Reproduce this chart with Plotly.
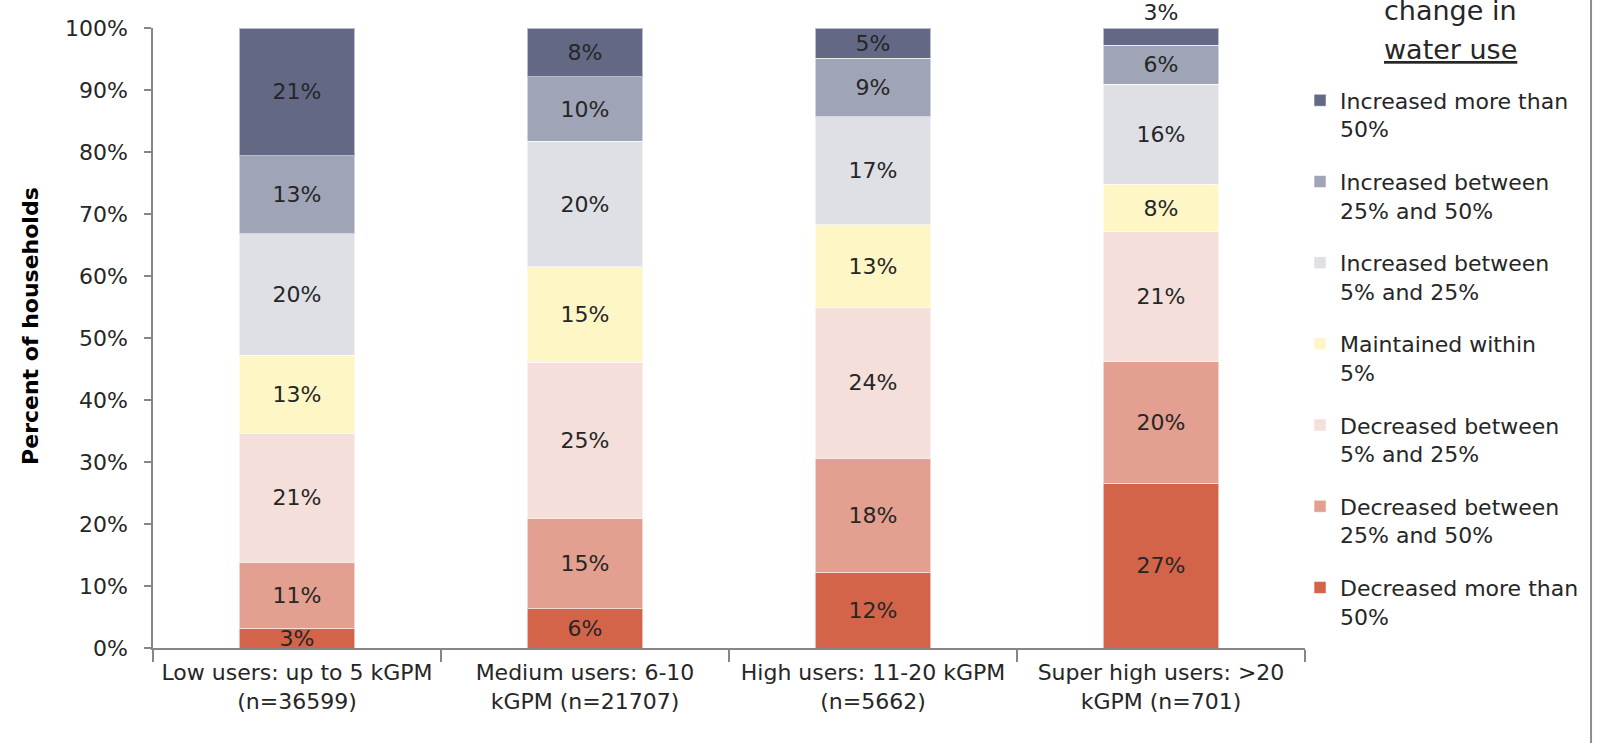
import plotly.graph_objects as go

# Household groups by summer water use
categories = [
    "Low users: up to 5 kGPM<br>(n=36599)",
    "Medium users: 6-10<br>kGPM (n=21707)",
    "High users: 11-20 kGPM<br>(n=5662)",
    "Super high users: >20<br>kGPM (n=701)",
]

# Share of households (%) in each change-in-water-use class, bottom to top
decreased_over_50 = [3.2, 6.3, 12.2, 26.6]
decreased_25_50 = [10.6, 14.6, 18.4, 19.6]
decreased_5_25 = [20.8, 25.2, 24.3, 20.9]
maintained_5 = [12.6, 15.4, 13.4, 7.7]
increased_5_25 = [19.6, 20.2, 17.4, 16.1]
increased_25_50 = [12.6, 10.4, 9.4, 6.3]
increased_over_50 = [20.6, 7.9, 4.9, 2.8]

series_names = [
    "Decreased more than<br>50%",
    "Decreased between<br>25% and 50%",
    "Decreased between<br>5% and 25%",
    "Maintained within<br>5%",
    "Increased between<br>5% and 25%",
    "Increased between<br>25% and 50%",
    "Increased more than<br>50%",
]
series_values = [
    decreased_over_50,
    decreased_25_50,
    decreased_5_25,
    maintained_5,
    increased_5_25,
    increased_25_50,
    increased_over_50,
]
series_colors = [
    "#d3644a",
    "#e39f8f",
    "#f4dfdb",
    "#fff6c6",
    "#dfe0e5",
    "#a0a4b7",
    "#636985",
]

FONT = "DejaVu Sans"
TEXT_COLOR = "#262626"
AXIS_COLOR = "#868686"

fig = go.Figure()
n_series = len(series_names)
for i, (name, vals, col) in enumerate(zip(series_names, series_values, series_colors)):
    if i == n_series - 1:
        # the thin top slice of the last bar gets its label above the bar
        tpos = ["inside"] * (len(vals) - 1) + ["outside"]
    else:
        tpos = "inside"
    fig.add_trace(
        go.Bar(
            x=categories,
            y=vals,
            name=name,
            legendgroup=f"g{i}",
            legendrank=n_series - i,  # top of the stack listed first
            marker=dict(color=col, line=dict(color="rgba(255,255,255,0.55)", width=1)),
            texttemplate="%{y:.0f}%",
            textposition=tpos,
            insidetextanchor="middle",
            textangle=0,
            textfont=dict(family=FONT, size=22, color=TEXT_COLOR),
            outsidetextfont=dict(family=FONT, size=22, color=TEXT_COLOR),
            cliponaxis=False,
            hoverinfo="skip",
        )
    )

fig.update_layout(
    width=1600,
    height=743,
    barmode="stack",
    bargap=0.6,
    plot_bgcolor="white",
    paper_bgcolor="white",
    margin=dict(l=153, r=295, t=28, b=95, autoexpand=False),
    font=dict(family=FONT, size=22, color=TEXT_COLOR),
    uniformtext=dict(minsize=22, mode="show"),
    showlegend=True,
    legend=dict(
        x=0.9957,
        xanchor="left",
        y=0.917,
        yanchor="top",
        traceorder="grouped",
        tracegroupgap=21,
        valign="top",
        font=dict(family=FONT, size=22, color=TEXT_COLOR),
        bgcolor="rgba(0,0,0,0)",
    ),
    xaxis=dict(
        showline=True,
        linecolor=AXIS_COLOR,
        linewidth=1.5,
        ticks="outside",
        tickson="boundaries",
        ticklen=12,
        tickcolor=AXIS_COLOR,
        tickwidth=1.5,
        showgrid=False,
        tickfont=dict(family=FONT, size=22, color=TEXT_COLOR),
        ticklabelstandoff=4,
    ),
    yaxis=dict(
        range=[0, 100],
        dtick=10,
        ticksuffix="%",
        showline=True,
        linecolor=AXIS_COLOR,
        linewidth=1.5,
        ticks="outside",
        ticklen=7,
        tickcolor=AXIS_COLOR,
        tickwidth=1.5,
        showgrid=False,
        zeroline=False,
        tickfont=dict(family=FONT, size=22, color=TEXT_COLOR),
        ticklabelstandoff=12,
    ),
)

# Vertical axis title
fig.add_annotation(
    x=-0.1065, y=0.52, xref="paper", yref="paper",
    text="<b>Percent of households</b>", showarrow=False,
    textangle=-90, xanchor="center", yanchor="middle",
    font=dict(family=FONT, size=22, color="#000000"),
)

# Legend heading
fig.add_annotation(
    x=1.1267, y=1.029, xref="paper", yref="paper",
    text="change in", showarrow=False,
    xanchor="center", yanchor="middle",
    font=dict(family=FONT, size=27, color=TEXT_COLOR),
)
fig.add_annotation(
    x=1.1267, y=0.966, xref="paper", yref="paper",
    text="<u>water use</u>", showarrow=False,
    xanchor="center", yanchor="middle",
    font=dict(family=FONT, size=27, color=TEXT_COLOR),
)

# Chart frame edge on the right
fig.add_shape(
    type="line", xref="paper", yref="paper",
    x0=1.2483, x1=1.2483, y0=-0.3, y1=1.2,
    line=dict(color="#8c8c8c", width=2),
)

fig.write_html("out.html")
